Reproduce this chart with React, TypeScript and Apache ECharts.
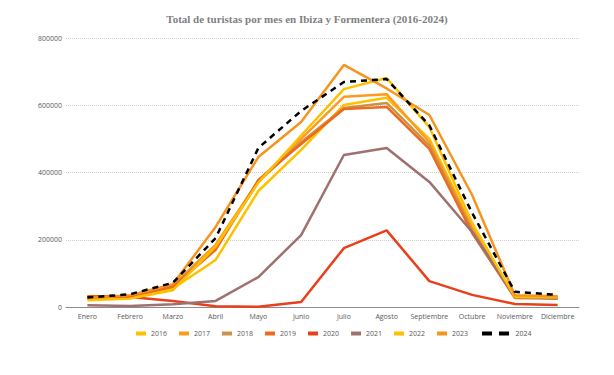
import React, { useEffect, useRef } from "react";
import * as echarts from "echarts";

const months = ["Enero", "Febrero", "Marzo", "Abril", "Mayo", "Junio", "Julio", "Agosto", "Septiembre", "Octubre", "Noviembre", "Diciembre"];
const years = ["2016", "2017", "2018", "2019", "2020", "2021", "2022", "2023", "2024"];
const colors = ["#FFC000", "#FF9A1F", "#C8924A", "#EE6A1E", "#E8401C", "#A07070", "#FFC000", "#F7941E", "#000000"];

const v2016 = [25000, 28000, 55000, 140000, 345000, 467000, 601000, 622000, 500000, 240000, 30000, 28000];
const v2017 = [30000, 32000, 65000, 185000, 375000, 500000, 625000, 633000, 490000, 235000, 32000, 30000];
const v2018 = [28000, 30000, 62000, 175000, 372000, 490000, 592000, 607000, 480000, 228000, 28000, 27000];
const v2019 = [32000, 33000, 60000, 170000, 378000, 485000, 589000, 595000, 470000, 220000, 27000, 25000];
const v2020 = [30000, 30000, 18000, 2000, 1000, 15000, 175000, 228000, 77000, 36000, 9000, 6000];
const v2021 = [5000, 3000, 8000, 18000, 89000, 214000, 452000, 473000, 372000, 223000, 30000, 25000];
const v2022 = [20000, 25000, 50000, 180000, 370000, 510000, 648000, 681000, 535000, 250000, 30000, 28000];
const v2023 = [27000, 35000, 68000, 238000, 446000, 550000, 720000, 650000, 571000, 333000, 35000, 32000];
const v2024 = [28000, 38000, 72000, 205000, 473000, 583000, 669000, 678000, 540000, 280000, 45000, 36000];

const allValues = [v2016, v2017, v2018, v2019, v2020, v2021, v2022, v2023, v2024];

export default function App() {
  const ref = useRef<HTMLDivElement>(null);
  useEffect(() => {
    const chart = echarts.init(ref.current!, null, { renderer: "svg" });
    const labelFont = { fontFamily: "Open Sans", fontSize: 7, color: "#595959" };
    chart.setOption({
      animation: false,
      title: {
        text: "Total de turistas por mes en Ibiza y Formentera (2016-2024)",
        left: "center",
        top: 8,
        textStyle: { fontFamily: "Liberation Serif", fontWeight: "bold", fontSize: 11, color: "#7f7f7f" },
      },
      grid: { left: 66, right: 35, top: 38, bottom: 68 },
      xAxis: {
        type: "category",
        data: months,
        boundaryGap: true,
        axisLine: { lineStyle: { color: "#8c8c8c", width: 1 } },
        axisTick: { show: false },
        axisLabel: { ...labelFont, margin: 6, interval: 0 },
      },
      yAxis: {
        type: "value",
        min: 0,
        max: 800000,
        interval: 200000,
        axisLine: { show: false },
        axisTick: { show: false },
        axisLabel: { ...labelFont, margin: 4, formatter: (v: number) => String(v) },
        splitLine: { lineStyle: { color: "#d0d0d0", type: "dotted", width: 1 } },
      },
      legend: [
        {
          data: years.slice(0, 8),
          bottom: 33,
          left: 131,
          itemWidth: 10,
          itemHeight: 4,
          itemGap: 12,
          icon: "rect",
          textStyle: { ...labelFont, fontSize: 7 },
        },
        {
          data: [{ name: "2024", icon: "path://M0,0H10V4H0Z M17,0H27V4H17Z" }],
          bottom: 33,
          left: 477,
          itemWidth: 30,
          itemHeight: 4,
          textStyle: { ...labelFont, fontSize: 7 },
        },
      ],
      series: years.map((y, i) => ({
        name: y,
        type: "line",
        data: allValues[i],
        symbol: "none",
        itemStyle: { color: colors[i] },
        lineStyle: { color: colors[i], width: 2.5, type: y === "2024" ? [6, 5] : "solid" },
      })),
    });
    return () => chart.dispose();
  }, []);
  return <div ref={ref} style={{ width: 614, height: 375, position: "absolute", left: 0, top: 0 }} />;
}
